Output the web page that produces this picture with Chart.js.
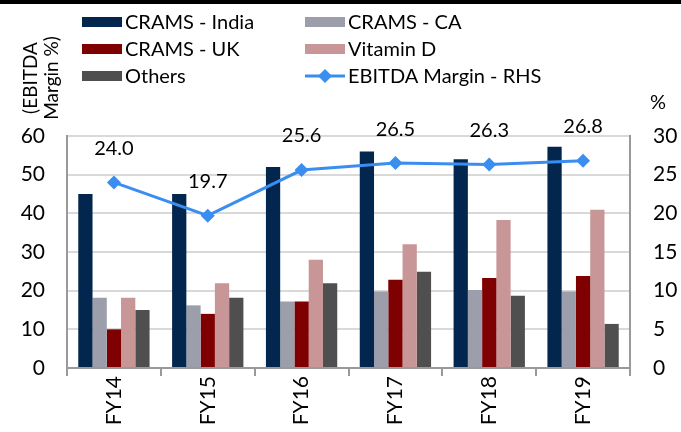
<!DOCTYPE html>
<html>
<head>
<meta charset="utf-8">
<script src="https://cdn.jsdelivr.net/npm/chart.js@4"></script>
<style>
  html, body { margin: 0; padding: 0; background: #fff; }
  #wrap { width: 681px; height: 432px; position: relative; }
</style>
</head>
<body>
<div id="wrap"><canvas id="chart" width="681" height="432"></canvas></div>
<script>
'use strict'

// data
const years = ['FY14', 'FY15', 'FY16', 'FY17', 'FY18', 'FY19']
const cramsIndia = [45, 45, 52, 56, 54, 57.2]
const cramsCA = [18.2, 16.2, 17.2, 19.8, 20.2, 19.8]
const cramsUK = [10, 14, 17.2, 22.8, 23.3, 23.8]
const vitaminD = [18.2, 21.9, 28, 32, 38.3, 40.9]
const others = [15, 18.2, 21.9, 24.9, 18.7, 11.4]
const ebitdaMargin = [24.0, 19.7, 25.6, 26.5, 26.3, 26.8]
const leftTicks = [0, 60, 10]   // min, max, step
const rightTicks = [0, 30, 5]

const FONT = 'Lato, "Noto Sans", sans-serif'

// legend drawn by hand, two columns like the original
const legendPlugin = {
    id: 'twoColLegend',
    afterDraw(chart) {
        const ctx = chart.ctx
        ctx.save()
        // thick rule on top
        ctx.fillStyle = '#000'
        ctx.fillRect(0, 0, 681, 4)

        ctx.font = '20px ' + FONT
        ctx.textBaseline = 'middle'
        ctx.textAlign = 'left'
        const cols = [82, 305]
        const rows = [22, 49, 76]
        chart.data.datasets.forEach((ds, i) => {
            const x = cols[i % 2]
            const y = rows[Math.floor(i / 2)]
            if (ds.type === 'line') {
                ctx.strokeStyle = ds.borderColor
                ctx.lineWidth = 3
                ctx.beginPath()
                ctx.moveTo(x, y)
                ctx.lineTo(x + 40, y)
                ctx.stroke()
                ctx.fillStyle = ds.borderColor
                ctx.beginPath()
                ctx.moveTo(x + 20, y - 7)
                ctx.lineTo(x + 27, y)
                ctx.lineTo(x + 20, y + 7)
                ctx.lineTo(x + 13, y)
                ctx.closePath()
                ctx.fill()
            } else {
                ctx.fillStyle = ds.backgroundColor
                ctx.fillRect(x, y - 5, 40, 10)
            }
            ctx.fillStyle = '#000'
            ctx.fillText(ds.label, x + 43, y + 1)
        })

        // axis titles
        ctx.font = '19px ' + FONT
        ctx.textAlign = 'center'
        ctx.save()
        ctx.translate(31, 78)
        ctx.rotate(-Math.PI / 2)
        ctx.fillText('(EBITDA', 0, 0)
        ctx.fillText('Margin %)', 0, 21)
        ctx.restore()
        ctx.textAlign = 'right'
        ctx.font = '20px ' + FONT
        ctx.fillText('%', 666, 103)

        // values above the margin line
        const meta = chart.getDatasetMeta(5)
        ctx.font = '20px ' + FONT
        ctx.textAlign = 'center'
        meta.data.forEach((pt, j) => {
            ctx.fillText(ebitdaMargin[j].toFixed(1), pt.x, pt.y - 34)
        })
        ctx.restore()
    }
}

function barSet(label, data, color) {
    return {
        type: 'bar',
        label: label,
        data: data,
        backgroundColor: color,
        borderWidth: 0,
        yAxisID: 'y',
        order: 1,
        categoryPercentage: 0.76,
        barPercentage: 1.0
    }
}

const chart = new Chart(document.getElementById('chart'), {
    data: {
        labels: years,
        datasets: [
            barSet('CRAMS - India', cramsIndia, '#03264f'),
            barSet('CRAMS - CA', cramsCA, '#9c9fab'),
            barSet('CRAMS - UK', cramsUK, '#7f0000'),
            barSet('Vitamin D', vitaminD, '#c89696'),
            barSet('Others', others, '#4f4f4f'),
            {
                type: 'line',
                label: 'EBITDA Margin - RHS',
                data: ebitdaMargin,
                borderColor: '#3a8ef0',
                backgroundColor: '#3a8ef0',
                borderWidth: 3,
                pointStyle: 'rectRot',
                pointRadius: 7,
                pointBorderWidth: 0,
                yAxisID: 'y1',
                order: 0
            }
        ]
    },
    options: {
        responsive: false,
        animation: false,
        layout: { padding: { top: 136, left: 0, right: 0, bottom: 0 } },
        plugins: { legend: { display: false }, tooltip: { enabled: false } },
        scales: {
            x: {
                grid: { offset: true, drawOnChartArea: false, tickLength: 8, color: '#999', lineWidth: 2 },
                border: { color: '#999', width: 2 },
                ticks: { color: '#000', font: { size: 21, family: FONT }, minRotation: 90, maxRotation: 90, padding: 0 },
                afterFit(s) { s.height = 64 }
            },
            y: {
                position: 'left',
                min: leftTicks[0], max: leftTicks[1],
                ticks: { stepSize: leftTicks[2], color: '#000', font: { size: 21, family: FONT }, padding: 22 },
                grid: { color: '#d9d9d9', lineWidth: 2, drawTicks: false },
                border: { color: '#999', width: 2 },
                afterFit(s) { s.width = 67 }
            },
            y1: {
                position: 'right',
                min: rightTicks[0], max: rightTicks[1],
                ticks: { stepSize: rightTicks[2], color: '#000', font: { size: 21, family: FONT }, padding: 23 },
                grid: { drawOnChartArea: false, drawTicks: false },
                border: { color: '#999', width: 2 },
                afterFit(s) { s.width = 51 }
            }
        }
    },
    plugins: [legendPlugin]
})
</script>
</body>
</html>
